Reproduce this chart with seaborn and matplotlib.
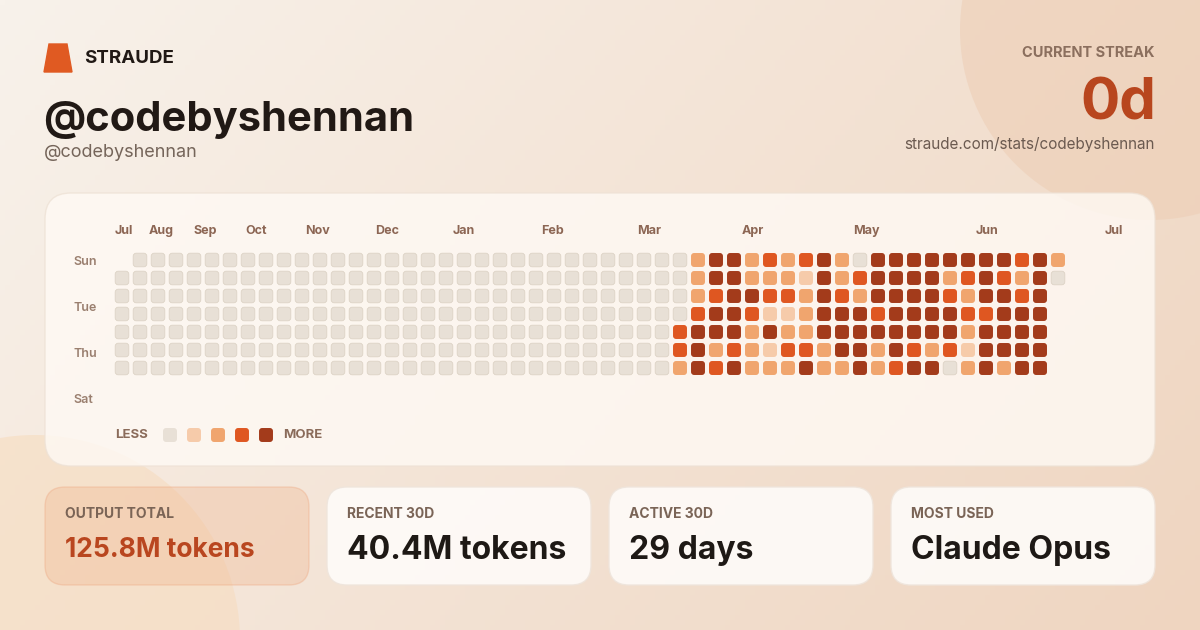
import numpy as np
import pandas as pd
import matplotlib.pyplot as plt
import matplotlib.patches as mpatches
import seaborn as sns

# activity grid, one string per weekday row, one char per week ('.' = no cell)
sun = ".0000000000000000000000000000000244232342044444444342"
mon = "00000000000000000000000000000000244222142344442343240"
tue = "0000000000000000000000000000000023443324324444324434."
wed = "0000000000000000000000000000000034431124443444433444."
thu = "0000000000000000000000000000000344424224444444424444."
fri = "0000000000000000000000000000000342321332442432314444."
sat = "0000000000000000000000000000000243422242242344024244."
day_rows = [sun, mon, tue, wed, thu, fri, sat]

level_colors = ["#e8e0d6", "#f6cbaa", "#f0a56e", "#df5721", "#a33b1b"]

month_labels = ["Jul", "Aug", "Sep", "Oct", "Nov", "Dec", "Jan", "Feb", "Mar", "Apr", "May", "Jun", "Jul"]
month_px = [115, 149, 193, 245, 305, 375, 453, 541, 637, 742, 853, 976, 1105]
day_labels = ["Sun", "Tue", "Thu", "Sat"]
day_px = [262, 308, 354, 400]

card_titles = ["OUTPUT TOTAL", "RECENT 30D", "ACTIVE 30D", "MOST USED"]
card_values = ["125.8M tokens", "40.4M tokens", "29 days", "Claude Opus"]

user = "@codebyshennan"
streak = "0d"
url = "straude.com/stats/codebyshennan"

rows = []
for d, s in enumerate(day_rows):
    for w, ch in enumerate(s):
        if ch != ".":
            rows.append({"week": w, "day": d, "level": int(ch)})
df = pd.DataFrame(rows)

sns.set_theme(style="white")
plt.rcParams["font.family"] = ["Inter", "DejaVu Sans"]

fig = plt.figure(figsize=(12, 6.3), dpi=100)
bg = fig.add_axes([0, 0, 1, 1])
bg.set_xlim(0, 1200)
bg.set_ylim(630, 0)
bg.axis("off")

# background gradient
c1 = np.array([248, 242, 235]) / 255
c2 = np.array([239, 213, 192]) / 255
gx, gy = np.meshgrid(np.linspace(0, 1, 240), np.linspace(0, 1, 126))
t = (gx * 0.7 + gy * 0.3)[..., None]
bg.imshow(c1 * (1 - t) + c2 * t, extent=(0, 1200, 630, 0), aspect="auto", zorder=0)
bg.add_patch(mpatches.Circle((1150, 30), 190, color="#edcdb4", alpha=0.55, lw=0, zorder=1))
bg.add_patch(mpatches.Circle((35, 640), 205, color="#f6dcbf", alpha=0.6, lw=0, zorder=1))

# logo
bg.add_patch(mpatches.Polygon([(49, 44), (67, 44), (72, 72), (44, 72)], color="#e05a22", zorder=3))
bg.text(84, 63, "STRAUDE", fontsize=13.5, fontweight="bold", color="#211915", va="baseline", zorder=3)
bg.text(43, 131, user, fontsize=30, fontweight="bold", color="#211915", va="baseline", zorder=3)
bg.text(44, 157, user, fontsize=13, color="#75655a", va="baseline", zorder=3)

bg.text(1155, 57, "CURRENT STREAK", fontsize=10.5, fontweight="bold", color="#8b6f5e",
        ha="right", va="baseline", zorder=3)
bg.text(1156, 120, streak, fontsize=42, fontweight="bold", color="#b8461e",
        ha="right", va="baseline", zorder=3)
bg.text(1155, 149, url, fontsize=11, color="#6b5a50", ha="right", va="baseline", zorder=3)

# main card
bg.add_patch(mpatches.FancyBboxPatch((45, 193), 1110, 273, boxstyle="round,pad=0,rounding_size=26",
                                     fc="#fffaf5", ec="#eee2d6", lw=1, alpha=0.8, zorder=2))
for lab, px in zip(month_labels, month_px):
    bg.text(px, 234, lab, fontsize=9, fontweight="bold", color="#8c6654", va="baseline", zorder=3)
for lab, py in zip(day_labels, day_px):
    bg.text(73, py, lab, fontsize=9, fontweight="semibold", color="#9a7f6f", va="center", zorder=3)

# rounded square marker
rsq = mpatches.FancyBboxPatch((-0.5, -0.5), 1, 1, boxstyle="round,pad=0,rounding_size=0.22").get_path()

ax = fig.add_axes([113 / 1200, 1 - 377 / 630, 954 / 1200, 126 / 630])
ax.patch.set_alpha(0)
pal = {i: c for i, c in enumerate(level_colors)}
sns.scatterplot(data=df[df.level == 0], x="week", y="day", hue="level", palette=pal, marker=rsq,
                s=96, edgecolor="#ddd3c6", linewidth=0.6, legend=False, ax=ax)
sns.scatterplot(data=df[df.level > 0], x="week", y="day", hue="level", palette=pal, marker=rsq,
                s=101, linewidth=0, legend=False, ax=ax)
ax.set_xlim(-0.5, 52.5)
ax.set_ylim(6.5, -0.5)
ax.axis("off")

# legend
bg.text(115, 435, "LESS", fontsize=9.5, fontweight="bold", color="#8a6b5a", va="center", zorder=3)
bg.text(283, 435, "MORE", fontsize=9.5, fontweight="bold", color="#8a6b5a", va="center", zorder=3)
bg.scatter([170, 194, 218, 242, 266], [435] * 5, c=level_colors, marker=rsq, s=101, lw=0, zorder=4)

# stat cards
card_x = [45, 327, 609, 891]
for i, (x0, title, val) in enumerate(zip(card_x, card_titles, card_values)):
    if i == 0:
        bg.add_patch(mpatches.FancyBboxPatch((x0, 487), 264, 98, boxstyle="round,pad=0,rounding_size=20",
                                             fc="#f0b690", ec="#eea57e", lw=1, alpha=0.35, zorder=2))
        bg.text(x0 + 20, 557, val, fontsize=19, fontweight="bold", color="#b9461f", va="baseline", zorder=3)
    else:
        bg.add_patch(mpatches.FancyBboxPatch((x0, 487), 264, 98, boxstyle="round,pad=0,rounding_size=20",
                                             fc="#fefbf8", ec="#efe5dc", lw=1, alpha=0.92, zorder=2))
        bg.text(x0 + 20, 559, val, fontsize=23, fontweight="bold", color="#1e1915", va="baseline", zorder=3)
    bg.text(x0 + 20, 518, title, fontsize=10, fontweight="bold", color="#7a6456", va="baseline", zorder=3)

fig.savefig("out.png", dpi=100)
